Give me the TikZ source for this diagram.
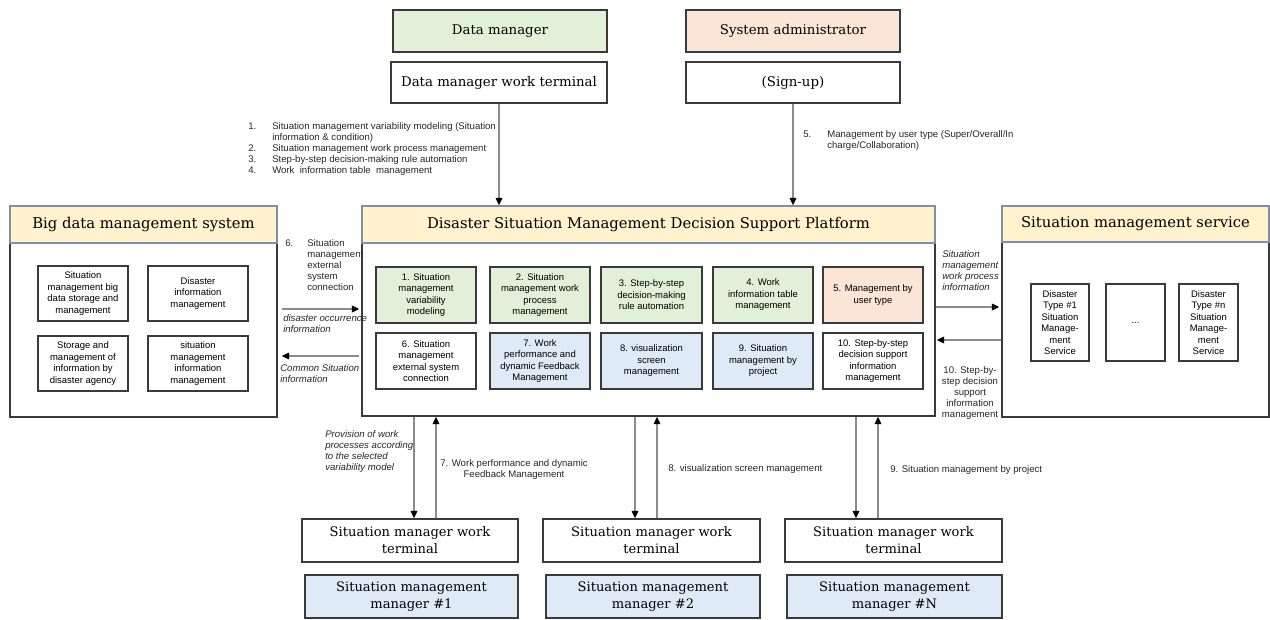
\documentclass[tikz,border=0pt]{standalone}
\usepackage{fontspec}
\setmainfont{DejaVu Serif}
\newfontfamily\sansf{Liberation Sans}
\usetikzlibrary{arrows.meta}
\newdimen\px \px=0.75pt
\definecolor{cgreen}{HTML}{E2F0D9}
\definecolor{cpeach}{HTML}{FBE5D6}
\definecolor{cyellow}{HTML}{FFF2CC}
\definecolor{cblue}{HTML}{DEEBF7}
\definecolor{bdr}{HTML}{3A3A3A}
\definecolor{hblue}{HTML}{7F8FA9}
\definecolor{lgray}{HTML}{8C8C8C}
% \mkbox{style}{name}{x1}{y1}{x2}{y2}{text}
\newcommand\mkbox[7]{\node[#1, minimum width={(#5-#3)*0.75pt}, minimum height={(#6-#4)*0.75pt}] (#2) at ({(#3+#5)/2},{(#4+#6)/2}) {#7};}
\begin{document}
\begin{tikzpicture}[x=0.75pt,y=-0.75pt,
 box/.style={draw=bdr, line width=1.1pt, inner sep=0pt, align=center, font=\fontsize{10}{12.6}\selectfont},
 bbox/.style={box, font=\fontsize{9.8}{12.6}\selectfont},
 hdr/.style={draw=hblue, line width=1.1pt, fill=cyellow, inner sep=0pt, font=\fontsize{11.1}{13}\selectfont},
 frame/.style={draw=bdr, line width=1.1pt, inner sep=0pt},
 ibox/.style={draw=bdr, line width=1.1pt, inner sep=0pt, align=center, font=\sansf\fontsize{7.1}{8.6}\selectfont},
 ann/.style={inner sep=0pt, font=\sansf\fontsize{7.2}{8.25}\selectfont, text=black!85},
 annc/.style={ann, align=center},
 anni/.style={ann, align=left, font=\sansf\itshape\fontsize{7.2}{8.4}\selectfont},
 arr/.style={draw=lgray, line width=0.9pt, -{Triangle[length=5.5pt,width=5pt,color=black,fill=black]}},
]
\useasboundingbox (0,0) rectangle (1270,620);

% top actors
\mkbox{box, fill=cgreen}{dm}{393}{10}{607}{52}{Data manager}
\mkbox{box}{dmt}{391}{62}{607}{103}{Data manager work terminal}
\mkbox{box, fill=cpeach}{sa}{686}{10}{900}{52}{System administrator}
\mkbox{box}{su}{686}{62}{900}{103}{(Sign-up)}

% platform
\mkbox{frame}{plat}{362}{206}{935}{416}{}
\mkbox{hdr}{plath}{362}{206}{935}{243}{Disaster Situation Management Decision Support Platform}
\mkbox{ibox, fill=cgreen}{p1}{376}{267}{476}{323}{1. Situation\\management\\variability\\modeling}
\mkbox{ibox, fill=cgreen}{p2}{490}{267}{590}{323}{2. Situation\\management work\\process\\management}
\mkbox{ibox, fill=cgreen}{p3}{601}{267}{702}{323}{3. Step-by-step\\decision-making\\rule automation}
\mkbox{ibox, fill=cgreen}{p4}{713}{267}{813}{323}{4. Work\\information table\\management}
\mkbox{ibox, fill=cpeach}{p5}{823}{267}{923}{323}{5. Management by\\user type}
\mkbox{ibox}{p6}{376}{333}{476}{389}{6. Situation\\management\\external system\\connection}
\mkbox{ibox, fill=cblue}{p7}{490}{333}{590}{389}{7. Work\\performance and\\dynamic Feedback\\Management}
\mkbox{ibox, fill=cblue}{p8}{601}{333}{702}{389}{8. visualization\\screen\\management}
\mkbox{ibox, fill=cblue}{p9}{713}{333}{813}{389}{9. Situation\\management by\\project}
\mkbox{ibox}{p10}{823}{333}{923}{389}{10. Step-by-step\\decision support\\information\\management}

% big data system
\mkbox{frame}{bd}{10}{206}{277}{417}{}
\mkbox{hdr}{bdh}{10}{206}{277}{243}{Big data management system}
\mkbox{ibox}{b1}{38}{266}{128}{321}{Situation\\management big\\data storage and\\management}
\mkbox{ibox}{b2}{148}{266}{248}{321}{Disaster\\information\\management}
\mkbox{ibox}{b3}{38}{336}{128}{391}{Storage and\\management of\\information by\\disaster agency}
\mkbox{ibox}{b4}{148}{336}{248}{391}{situation\\management\\information\\management}

% situation management service
\mkbox{frame}{sv}{1002}{206}{1269}{417}{}
\mkbox{hdr}{svh}{1002}{206}{1269}{242}{Situation management service}
\mkbox{ibox}{s1}{1031}{284}{1089}{361}{Disaster\\Type \#1\\Situation\\Manage-\\ment\\Service}
\mkbox{ibox}{s2}{1106}{284}{1165}{361}{...}
\mkbox{ibox}{s3}{1179}{284}{1238}{361}{Disaster\\Type \#n\\Situation\\Manage-\\ment\\Service}

% bottom terminals and managers
\mkbox{bbox}{t1}{302}{519}{518}{562}{Situation manager work\\terminal}
\mkbox{bbox}{t2}{543}{519}{760}{562}{Situation manager work\\terminal}
\mkbox{bbox}{t3}{785}{519}{1002}{562}{Situation manager work\\terminal}
\mkbox{bbox, fill=cblue}{m1}{305}{575}{518}{618}{Situation management\\manager \#1}
\mkbox{bbox, fill=cblue}{m2}{546}{575}{760}{618}{Situation management\\manager \#2}
\mkbox{bbox, fill=cblue}{m3}{787}{575}{1002}{618}{Situation management\\manager \#N}

% helper coordinates
\coordinate (ya) at (0,309);
\coordinate (yb) at (0,356);
\coordinate (yc) at (0,307);
\coordinate (yd) at (0,340);
\coordinate (x1) at (414,0);
\coordinate (x2) at (436,0);
\coordinate (x3) at (635,0);
\coordinate (x4) at (657,0);
\coordinate (x5) at (856,0);
\coordinate (x6) at (878,0);

% arrows
\draw[arr] (dmt.south) -- (dmt.south |- plat.north);
\draw[arr] (su.south) -- (su.south |- plat.north);
\draw[arr, shorten <=4\px, shorten >=2\px] (bd.east |- ya) -- (plat.west |- ya);
\draw[arr, shorten <=2\px, shorten >=4\px] (plat.west |- yb) -- (bd.east |- yb);
\draw[arr, shorten >=2\px] (plat.east |- yc) -- (sv.west |- yc);
\draw[arr, shorten >=1\px] (sv.west |- yd) -- (plat.east |- yd);
\draw[arr] (plat.south -| x1) -- (t1.north -| x1);
\draw[arr] (t1.north -| x2) -- (plat.south -| x2);
\draw[arr] (plat.south -| x3) -- (t2.north -| x3);
\draw[arr] (t2.north -| x4) -- (plat.south -| x4);
\draw[arr] (plat.south -| x5) -- (t3.north -| x5);
\draw[arr] (t3.north -| x6) -- (plat.south -| x6);

% annotations
\node[ann, anchor=north west] (l14) at (248,122) {\begin{tabular}{@{}p{24\px}@{}l@{}}
1. & Situation management variability modeling (Situation\\
 & information \& condition)\\
2. & Situation management work process management\\
3. & Step-by-step decision-making rule automation\\
4. & Work\ \ information table\ \ management
\end{tabular}};
\node[ann, anchor=north west] (l5) at (803,130) {\begin{tabular}{@{}p{24\px}@{}l@{}}
5. & Management by user type (Super/Overall/In\\
 & charge/Collaboration)
\end{tabular}};
\node[ann, anchor=north west] (l6) at (285,239) {\begin{tabular}{@{}p{22\px}@{}l@{}}
6. & Situation\\
 & management\\
 & external\\
 & system\\
 & connection
\end{tabular}};
\node[anni, anchor=north west] (ldis) at (283,314) {disaster occurrence\\information};
\node[anni, anchor=north west] (lcom) at (280,364) {Common Situation\\information};
\node[anni, anchor=north west] (lwp) at (942,250) {Situation\\management\\work process\\information};
\node[annc, anchor=north] (l10) at (970,366) {10. Step-by-\\step decision\\support\\information\\management};
\node[anni, anchor=north west] (lprov) at (325,430) {Provision of work\\processes according\\to the selected\\variability model};
\node[annc, anchor=north] (l7) at (514,459) {7. Work performance and dynamic\\Feedback Management};
\node[ann, anchor=west] (l8) at (668,469) {8. visualization screen management};
\node[ann, anchor=west] (l9) at (890,470) {9. Situation management by project};
\end{tikzpicture}
\end{document}
